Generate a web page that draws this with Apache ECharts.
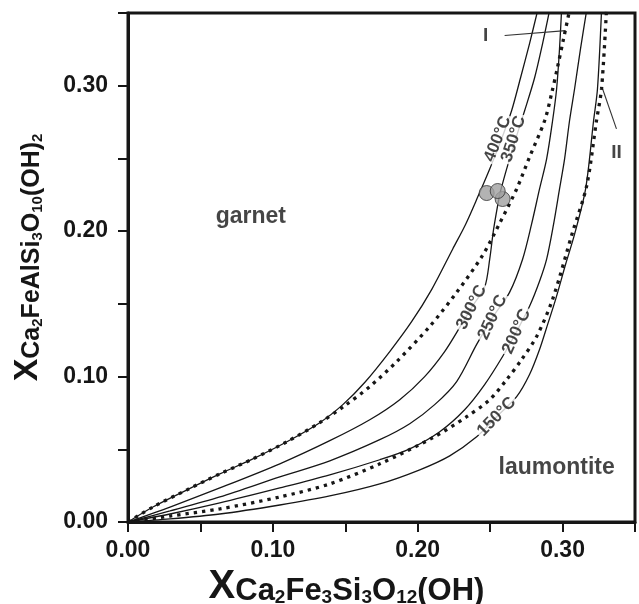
<!DOCTYPE html>
<html><head><meta charset="utf-8">
<script src="https://cdn.jsdelivr.net/npm/echarts/dist/echarts.min.js"></script>
<style>html,body{margin:0;padding:0;background:#fff}#c{width:639px;height:604px}</style>
</head><body><div id="c"></div>
<script>
const tickLabels = ['0.00','0.10','0.20','0.30'];

const iso400 = [[0,0],[0.0172,0.0103],[0.0407,0.0221],[0.0634,0.0331],[0.0862,0.0434],[0.1097,0.0552],[0.1324,0.0683],[0.1483,0.0807],[0.1634,0.0959],[0.1807,0.1172],[0.1959,0.1379],[0.2097,0.1600],[0.2241,0.1876],[0.2331,0.2048],[0.2414,0.2234],[0.2497,0.2428],[0.2566,0.2600],[0.2648,0.2828],[0.2710,0.3055],[0.2772,0.3290],[0.2828,0.3517]];
const iso350 = [[0.2566,0.2255],[0.2614,0.2428],[0.2676,0.2634],[0.2738,0.2828],[0.2807,0.3055],[0.2862,0.3290],[0.2910,0.3517]];
const iso300 = [[0,0],[0.0290,0.0103],[0.0634,0.0234],[0.1048,0.0400],[0.1393,0.0559],[0.1669,0.0703],[0.1876,0.0841],[0.2048,0.1000],[0.2186,0.1172],[0.2290,0.1338],[0.2372,0.1476],[0.2462,0.1614],[0.2497,0.1807],[0.2524,0.2014],[0.2566,0.2255]];
const iso250 = [[0,0],[0.0290,0.0076],[0.0634,0.0172],[0.1048,0.0310],[0.1393,0.0421],[0.1738,0.0566],[0.1945,0.0676],[0.2117,0.0807],[0.2269,0.0966],[0.2407,0.1221],[0.2517,0.1407],[0.2634,0.1579],[0.2724,0.1807],[0.2786,0.2048],[0.2841,0.2290],[0.2890,0.2497],[0.2931,0.2759],[0.2959,0.2979],[0.2979,0.3255],[0.2993,0.3517]];
const iso200 = [[0,0],[0.0290,0.0055],[0.0634,0.0131],[0.1048,0.0234],[0.1393,0.0324],[0.1738,0.0428],[0.1945,0.0503],[0.2152,0.0621],[0.2324,0.0772],[0.2462,0.0945],[0.2586,0.1138],[0.2683,0.1310],[0.2772,0.1483],[0.2841,0.1655],[0.2890,0.1807],[0.2938,0.2048],[0.2979,0.2290],[0.3014,0.2497],[0.3048,0.2759],[0.3083,0.2979],[0.3124,0.3255],[0.3166,0.3517]];
const iso150 = [[0,0],[0.0290,0.0021],[0.0634,0.0055],[0.1048,0.0117],[0.1393,0.0179],[0.1738,0.0262],[0.2014,0.0359],[0.2221,0.0455],[0.2407,0.0586],[0.2545,0.0724],[0.2683,0.0862],[0.2772,0.1014],[0.2841,0.1186],[0.2897,0.1359],[0.2952,0.1531],[0.3021,0.1772],[0.3083,0.1979],[0.3159,0.2290],[0.3214,0.2759],[0.3241,0.2979],[0.3269,0.3517]];
const curveI = [[0,0],[0.0172,0.0103],[0.0407,0.0221],[0.0634,0.0331],[0.0862,0.0434],[0.1097,0.0552],[0.1324,0.0683],[0.1497,0.0800],[0.1669,0.0931],[0.1855,0.1103],[0.2083,0.1345],[0.2269,0.1579],[0.2448,0.1834],[0.2566,0.2055],[0.2683,0.2290],[0.2772,0.2510],[0.2876,0.2759],[0.2924,0.2945],[0.2966,0.3131],[0.3007,0.3324],[0.3048,0.3517]];
const curveII = [[0,0],[0.0290,0.0041],[0.0634,0.0090],[0.1048,0.0172],[0.1393,0.0262],[0.1738,0.0400],[0.2103,0.0579],[0.2338,0.0724],[0.2497,0.0841],[0.2614,0.0979],[0.2717,0.1117],[0.2821,0.1276],[0.2931,0.1531],[0.3069,0.1993],[0.3166,0.2310],[0.3234,0.2759],[0.3269,0.2979],[0.3303,0.3517]];
const samples = [[0.2476,0.2262],[0.2586,0.2221],[0.2552,0.2276]];
const leaderI = [[0.2600,0.3345],[0.3021,0.3379]];
const leaderII = [[0.3276,0.2979],[0.3372,0.2703]];

const isoLabels = [
  {text:'400°C', at:[0.2552,0.2634], angle:68},
  {text:'350°C', at:[0.2662,0.2634], angle:72},
  {text:'300°C', at:[0.2372,0.1476], angle:63},
  {text:'250°C', at:[0.2517,0.1407], angle:65},
  {text:'200°C', at:[0.2683,0.1310], angle:66},
  {text:'150°C', at:[0.2545,0.0724], angle:46}
];
const fieldLabels = [
  {text:'garnet', at:[0.0848,0.2103], size:23},
  {text:'laumontite', at:[0.2959,0.0372], size:23},
  {text:'I', at:[0.2469,0.3345], size:19},
  {text:'II', at:[0.3372,0.2538], size:19}
];

const FONT = '"Liberation Sans", Arial, Helvetica, sans-serif';
const INK = '#161616';

function curve(name, data, dotted){
  return {
    type:'line', name, data, symbol:'none', smooth:0.3, silent:true,
    z: dotted ? 4 : 3,
    lineStyle: dotted ? {color:INK, width:3.3, type:[3.3,5], cap:'butt'} : {color:INK, width:1.3}
  };
}
function leader(data){
  return {type:'line', data, symbol:'none', silent:true, z:3, lineStyle:{color:'#333', width:1.1}};
}
function titleRich(xs, ms, ss){
  return {
    X:{fontSize:xs, fontWeight:'bold', fontFamily:FONT, color:INK, verticalAlign:'bottom', lineHeight:xs+4},
    m:{fontSize:ms, fontWeight:'bold', fontFamily:FONT, color:INK, verticalAlign:'bottom', lineHeight:xs+4},
    s:{fontSize:ss, fontWeight:'bold', fontFamily:FONT, color:INK, verticalAlign:'bottom', lineHeight:xs-2}
  };
}

const chart = echarts.init(document.getElementById('c'));
chart.setOption({
  animation:false,
  backgroundColor:'#fff',
  grid:{left:128, top:13, width:507, height:509, containLabel:false, outerBoundsMode:'none',
    show:true, borderColor:INK, borderWidth:3, backgroundColor:'transparent'},
  xAxis:{
    type:'value', min:0, max:0.35, interval:0.05,
    axisLine:{lineStyle:{color:INK, width:3}},
    axisTick:{length:10, lineStyle:{color:INK, width:2}},
    splitLine:{show:false},
    axisLabel:{margin:17, color:INK, fontFamily:FONT, fontWeight:'bold', fontSize:23,
      formatter: v => { const s = v.toFixed(2); return tickLabels.includes(s) ? s : ''; }},
    name:'{X|X}{m|Ca}{s|2}{m|Fe}{s|3}{m|Si}{s|3}{m|O}{s|12}{m|(OH)}',
    nameLocation:'middle', nameGap:34,
    nameTextStyle:{padding:[0,70,0,0], rich:titleRich(40,31,19)}
  },
  yAxis:{
    type:'value', min:0, max:0.35, interval:0.05,
    axisLine:{lineStyle:{color:INK, width:3}},
    axisTick:{length:10, lineStyle:{color:INK, width:2}},
    splitLine:{show:false},
    axisLabel:{margin:20, color:INK, fontFamily:FONT, fontWeight:'bold', fontSize:23,
      formatter: v => { const s = v.toFixed(2); return tickLabels.includes(s) ? s : ''; }},
    name:'{X|X}{m|Ca}{s|2}{m|FeAlSi}{s|3}{m|O}{s|10}{m|(OH)}{s|2}',
    nameLocation:'middle', nameGap:83, nameRotate:90,
    nameTextStyle:{padding:[0,0,0,20], rich:titleRich(34,25,15)}
  },
  series:[
    curve('400°C', iso400, false),
    curve('350°C', iso350, false),
    curve('300°C', iso300, false),
    curve('250°C', iso250, false),
    curve('200°C', iso200, false),
    curve('150°C', iso150, false),
    curve('I', curveI, true),
    curve('II', curveII, true),
    leader(leaderI),
    leader(leaderII),
    {
      type:'scatter', data:samples, symbol:'circle', symbolSize:15, z:6, silent:true,
      itemStyle:{color:'#a0a0a0', borderColor:'#333', borderWidth:1}
    },
    {
      type:'scatter', symbolSize:0, z:8, silent:true,
      data: isoLabels.map(l => ({value:l.at, label:{formatter:l.text, rotate:l.angle}})),
      label:{show:true, position:'inside', color:INK, fontFamily:FONT, fontWeight:'bold', fontSize:17,
        backgroundColor:'#fff', padding:[0,2]}
    },
    {
      type:'scatter', symbolSize:0, z:8, silent:true,
      data: fieldLabels.map(l => ({value:l.at, label:{formatter:l.text, fontSize:l.size}})),
      label:{show:true, position:'inside', color:INK, fontFamily:FONT, fontWeight:'bold'}
    }
  ]
});
</script></body></html>
